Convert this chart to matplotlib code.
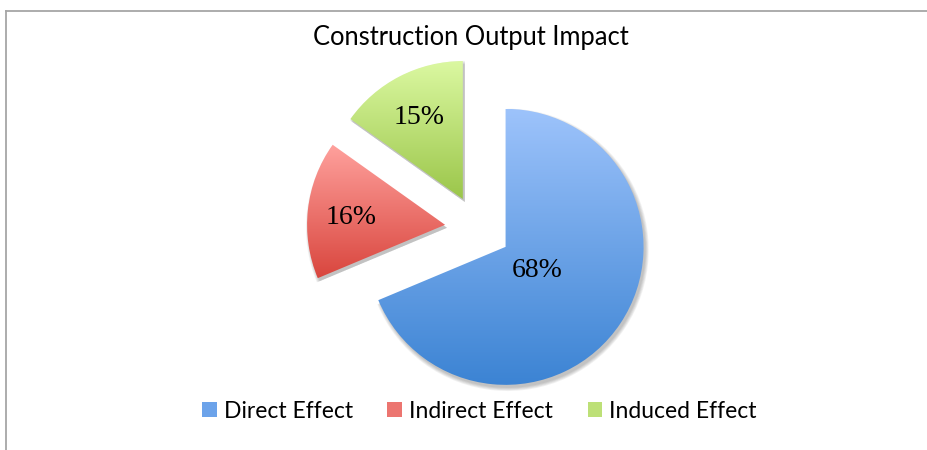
import numpy as np
import matplotlib.pyplot as plt
from matplotlib.colors import LinearSegmentedColormap
from matplotlib.patches import Wedge, Patch
from matplotlib.lines import Line2D

labels = ['Direct Effect', 'Indirect Effect', 'Induced Effect']
shares = [68, 16, 15]
pct_labels = ['68%', '16%', '15%']
top_colors = ['#9dc3fb', '#ffa19d', '#dbf8a1']
bottom_colors = ['#3b83d3', '#d9463e', '#9bc64a']
mid_colors = ['#6ca3ea', '#ec7570', '#bde077']

W, H = 928, 450
R_PX = 138.0            # pie radius in pixels
CX, CY = 478.0, 221.5   # pie centre in pixels (y measured from bottom)

fig = plt.figure(figsize=(W / 100, H / 100), dpi=100)
ax = fig.add_axes([0, 0, 1, 1])

wedges, _ = ax.pie(shares, startangle=90, counterclock=False, radius=1,
                   center=(0, 0), explode=[0.24] * 3,
                   wedgeprops=dict(facecolor='none', linewidth=0))

px = 1.0 / R_PX
for w in wedges:
    # soft drop shadow
    for k in range(5):
        sh = Wedge((w.center[0] + 2 * px, w.center[1] - 3 * px), w.r + k * 0.8 * px,
                   w.theta1, w.theta2, facecolor='black', alpha=0.05,
                   linewidth=0, zorder=0.5)
        ax.add_patch(sh)

for w, top, bot in zip(wedges, top_colors, bottom_colors):
    verts = w.get_path().vertices
    x0, x1 = verts[:, 0].min(), verts[:, 0].max()
    y0, y1 = verts[:, 1].min(), verts[:, 1].max()
    cmap = LinearSegmentedColormap.from_list('g', [bot, top])
    grad = np.linspace(0, 1, 256).reshape(-1, 1)
    im = ax.imshow(grad, cmap=cmap, origin='lower', aspect='auto',
                   extent=(x0, x1, y0, y1), zorder=1, interpolation='bilinear')
    im.set_clip_path(w)

# percentage labels at roughly the centroid of each slice
for w, txt in zip(wedges, pct_labels):
    half = np.deg2rad(w.theta2 - w.theta1) / 2
    mid = np.deg2rad(w.theta1 + w.theta2) / 2
    d = 2 * np.sin(half) / (3 * half) * 1.07 * w.r
    ax.text(w.center[0] + d * np.cos(mid), w.center[1] + d * np.sin(mid), txt,
            ha='center', va='center_baseline', fontsize=20, family='Liberation Serif',
            color='black', zorder=3)

ax.set_xlim(-CX / R_PX, (W - CX) / R_PX)
ax.set_ylim(-CY / R_PX, (H - CY) / R_PX)
ax.set_aspect('auto')
ax.axis('off')

fig.text(471 / W, 1 - 37 / H, 'Construction Output Impact', ha='center',
         va='center', fontsize=18.4, family='Lato')

handles = [Patch(facecolor=c, edgecolor='none') for c in mid_colors]
fig.legend(handles, labels, loc='center', bbox_to_anchor=(479.5 / W, 1 - 411 / H),
           ncol=3, frameon=False, prop={'family': 'Lato', 'size': 16.5},
           handlelength=0.65, handleheight=0.65, handletextpad=0.3,
           columnspacing=1.5)

# chart border
fig.add_artist(Line2D([6 / W, 6 / W], [0, 1 - 11 / H], transform=fig.transFigure,
                      color='#a6a6a6', lw=1.3))
fig.add_artist(Line2D([6 / W, 1], [1 - 11 / H, 1 - 11 / H], transform=fig.transFigure,
                      color='#a6a6a6', lw=1.3))

fig.savefig('out.png', dpi=100)
